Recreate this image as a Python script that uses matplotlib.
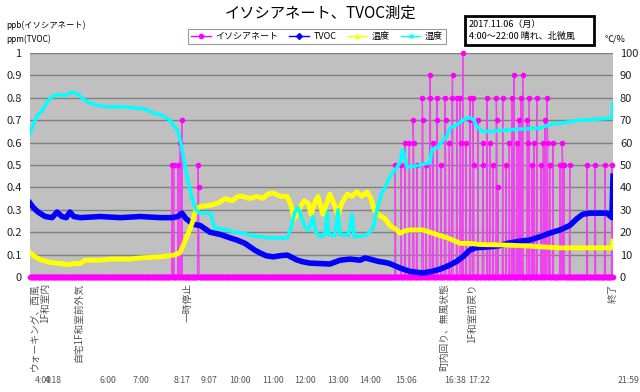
import numpy as np
import matplotlib
matplotlib.use('Agg')
import matplotlib.pyplot as plt
from matplotlib.lines import Line2D
from matplotlib.patches import Rectangle
import matplotlib.transforms as mtransforms

plt.rcParams['font.family'] = ['Noto Sans CJK JP', 'DejaVu Sans']

# ---- data (time = minutes after 4:00) ----
tvoc_t = [0, 6, 15, 28, 41, 50, 59, 67, 74, 81, 93, 130, 167, 204, 241, 263, 274, 281, 289, 302,
          315, 324, 333, 352, 370, 383, 398, 407, 416, 426, 437, 450, 463, 476, 487, 494, 505, 518,
          537, 555, 574, 592, 611, 620, 629, 644, 657, 666, 685, 703, 727, 744, 759, 774, 790, 801,
          814, 824, 851, 870, 883, 907, 925, 944, 962, 981, 999, 1012, 1023, 1036, 1068, 1077, 1079]
tvoc_v = [0.33, 0.31, 0.29, 0.27, 0.265, 0.29, 0.27, 0.265, 0.29, 0.27, 0.265, 0.27, 0.265, 0.27,
          0.265, 0.265, 0.27, 0.285, 0.26, 0.235, 0.23, 0.215, 0.20, 0.19, 0.175, 0.165, 0.15, 0.135,
          0.12, 0.107, 0.095, 0.09, 0.095, 0.098, 0.085, 0.076, 0.068, 0.062, 0.06, 0.058, 0.075,
          0.08, 0.075, 0.085, 0.08, 0.07, 0.065, 0.06, 0.04, 0.025, 0.018, 0.025, 0.035, 0.05, 0.07,
          0.09, 0.12, 0.13, 0.135, 0.14, 0.15, 0.16, 0.165, 0.18, 0.196, 0.21, 0.23, 0.26, 0.28,
          0.285, 0.285, 0.265, 0.45]

temp_t = [0, 9, 22, 37, 56, 74, 78, 93, 102, 130, 148, 185, 204, 241, 259, 270, 278, 285, 292, 300,
          307, 315, 333, 348, 361, 374, 385, 394, 407, 420, 431, 440, 450, 463, 476, 483, 489, 494,
          500, 507, 515, 520, 527, 533, 542, 555, 564, 570, 577, 587, 596, 605, 614, 624, 631, 637,
          644, 657, 666, 679, 685, 692, 703, 727, 740, 746, 759, 772, 787, 796, 814, 833, 875, 907,
          944, 981, 1018, 1055, 1077, 1079]
temp_v = [11, 9, 7.5, 6.5, 6, 5.5, 6, 6, 7.5, 7.5, 8, 8, 8.5, 9, 9.5, 10, 11, 15, 19, 24,
          30, 31.5, 32, 33, 35, 34, 36, 36, 35, 36, 35, 37, 37.5, 36, 36, 32, 26, 28,
          31, 34, 33, 28, 33, 36, 28, 37, 32, 27, 33, 37, 36, 38, 36, 38, 35, 30,
          28, 26, 23, 21, 19.5, 20.5, 21, 21, 20, 19.5, 18.5, 17.5, 16, 15, 15, 14.5, 14.3, 14,
          13.5, 13, 13, 13, 13, 16]

hum_t = [0, 6, 13, 22, 31, 41, 52, 65, 78, 87, 96, 107, 120, 139, 167, 194, 213, 222, 231, 246,
         259, 268, 274, 279, 285, 292, 300, 307, 313, 328, 335, 341, 352, 365, 379, 394, 411, 426,
         444, 463, 476, 483, 490, 496, 502, 509, 516, 524, 529, 537, 546, 550, 553, 564, 570, 574,
         589, 596, 600, 620, 629, 635, 642, 650, 657, 666, 676, 685, 690, 698, 713, 731, 740, 744,
         753, 764, 772, 777, 790, 801, 809, 816, 822, 827, 838, 851, 883, 907, 944, 962, 990, 1018,
         1055, 1077, 1079]
hum_v = [64, 68, 72, 74, 78, 80.5, 81.5, 81, 82.5, 82, 80, 78, 77, 76, 76, 75.5, 75, 74, 73, 72,
         70, 67, 65, 60, 52, 43, 35, 30, 28.6, 28.5, 28, 22, 21.5, 21, 20, 19.6, 18.5, 18,
         17.5, 17.4, 17.4, 22, 29, 31, 27, 22, 21, 27, 20, 18, 19, 29, 19, 18.5, 30, 19,
         18.5, 28, 18, 18.5, 20, 22, 30, 37, 40, 44.6, 48, 51, 57, 49, 49.5, 50.5, 51, 57,
         57.5, 61, 63, 66.5, 68, 70, 71, 71, 70, 67, 65, 65, 65.6, 66, 66.5, 68, 69, 70,
         70.5, 71, 78]

# isocyanate (ppb): zero except these readings (start minute -> consecutive values)
iso_spikes = {263: [0.5], 266: [0.5], 274: [0.5], 278: [0.6], 281: [0.7], 311: [0.5, 0.4],
              676: [0.5], 687: [0.5], 694: [0.6], 702: [0.6], 709: [0.7, 0.6], 716: [0.5],
              726: [0.8, 0.7], 733: [0.5], 740: [0.9, 0.8], 746: [0.6], 753: [0.8, 0.7],
              761: [0.5], 768: [0.8, 0.7], 776: [0.6], 781: [0.8, 0.9], 790: [0.8],
              796: [0.8, 0.6], 801: [1.0], 807: [0.6], 814: [0.8, 0.7], 820: [0.8, 0.5],
              829: [0.7], 838: [0.6, 0.5], 846: [0.8], 851: [0.6], 857: [0.5], 863: [0.8, 0.7],
              866: [0.4], 875: [0.8], 881: [0.5], 887: [0.6], 892: [0.8], 896: [0.9], 901: [0.6],
              905: [0.7], 909: [0.8], 912: [0.9], 920: [0.7, 0.6], 924: [0.8], 929: [0.5],
              933: [0.6], 938: [0.8], 946: [0.5], 950: [0.6], 953: [0.7], 957: [0.8, 0.6],
              962: [0.5], 968: [0.6], 981: [0.5], 985: [0.6, 0.5], 988: [0.5], 999: [0.5],
              1031: [0.5], 1046: [0.5], 1064: [0.5], 1077: [0.5]}
iso_t = np.arange(0, 1080)
iso_v = np.zeros(len(iso_t))
for t0, seq in iso_spikes.items():
    iso_v[t0:t0 + len(seq)] = seq

tick_t = [0, 18, 120, 180, 257, 307, 360, 420, 480, 540, 600, 666, 758, 802, 1079]
tick_labels = ['4:00', '4:18', '6:00', '7:00', '8:17', '9:07', '10:00', '11:00', '12:00',
               '13:00', '14:00', '15:06', '16:38', '17:22', '21:59']

note_t = [18, 89, 291, 766, 818, 1079]
note_text = ['ウォーキング、西風\n1F和室内', '自宅1F和室前外気', '一時停止',
             '町内回り、無風状態', '1F和室前戻り', '終了']

series_names = ['イソシアネート', 'TVOC', '温度', '湿度']

# ---- figure ----
W, H = 640, 392
fig = plt.figure(figsize=(6.4, 3.92), dpi=100)
L, R, T, B = 30, 613, 53, 277
ax = fig.add_axes([L / W, 1 - B / H, (R - L) / W, (B - T) / H])
ax.set_facecolor('#C0C0C0')
ax2 = ax.twinx()

ax.set_xlim(0, 1079)
ax.set_ylim(0, 1)
ax2.set_ylim(0, 100)
ax.set_yticks(np.arange(0, 1.01, 0.1))
ax.set_yticklabels(['0', '0.1', '0.2', '0.3', '0.4', '0.5', '0.6', '0.7', '0.8', '0.9', '1'])
ax2.set_yticks(np.arange(0, 101, 10))
ax.grid(axis='y', color='#808080', linewidth=1)
ax.set_axisbelow(True)

ax.plot(iso_t, iso_v, color='#EE44EE', linewidth=0.9, marker='o', markersize=3,
        markerfacecolor='#FF00FF', markeredgecolor='#FF00FF', clip_on=False, zorder=3)
ax.plot(tvoc_t, tvoc_v, color='#0000FF', linewidth=4, solid_joinstyle='round', zorder=4)
ax2.plot(temp_t, temp_v, color='#FFFF00', linewidth=3.5, solid_joinstyle='round')
ax2.plot(hum_t, hum_v, color='#00FFFF', linewidth=2.5, solid_joinstyle='round')

for a in (ax, ax2):
    for s in a.spines.values():
        s.set_visible(False)
ax.tick_params(axis='y', length=0, pad=6, labelsize=8, labelcolor='#222222')
ax2.tick_params(axis='y', length=0, pad=5, labelsize=8, labelcolor='#222222')

ax.set_xticks(tick_t)
ax.set_xticklabels(tick_labels)
ax.tick_params(axis='x', length=0, pad=71, labelsize=6.3, labelcolor='#555555')
off = mtransforms.ScaledTranslation(5 / 100, 0, fig.dpi_scale_trans)
for lab in ax.get_xticklabels():
    lab.set_horizontalalignment('left')
    lab.set_transform(lab.get_transform() + off)

trans = mtransforms.blended_transform_factory(ax.transData, ax.transAxes)
for t, s in zip(note_t, note_text):
    ax.text(t, -0.027, s, transform=trans, rotation=90, ha='center', va='top',
            multialignment='right', fontsize=7, color='#555555', linespacing=1.0)

# title & labels
fig.text(0.5, 1 - 13 / H, 'イソシアネート、TVOC測定', ha='center', va='center', fontsize=11)
fig.text(6 / W, 1 - 25 / H, 'ppb(イソシアネート)', ha='left', va='center', fontsize=6)
fig.text(6 / W, 1 - 39 / H, 'ppm(TVOC)', ha='left', va='center', fontsize=6)
fig.text(605 / W, 1 - 39 / H, '℃/%', ha='left', va='center', fontsize=6.5)

# date box
fig.patches.append(Rectangle((465 / W, 1 - 45 / H), (594 - 465) / W, (45 - 16) / H,
                             transform=fig.transFigure, fill=False, edgecolor='black',
                             linewidth=2))
fig.text(469 / W, 1 - 30.5 / H, '2017.11.06（月）\n4:00～22:00 晴れ、北微風',
         ha='left', va='center', fontsize=6.5, linespacing=1.45)

# legend
handles = [Line2D([], [], color='#FF00FF', lw=1, marker='o', markersize=3),
           Line2D([], [], color='#0000FF', lw=1, marker='D', markersize=3),
           Line2D([], [], color='#FFFF00', lw=1, marker='^', markersize=3),
           Line2D([], [], color='#00FFFF', lw=1, marker='x', markersize=3)]
leg = fig.legend(handles, series_names, loc='center', bbox_to_anchor=(317 / W, 1 - 36.5 / H),
                 ncol=4, fontsize=6.5, frameon=True, fancybox=False, edgecolor='#808080',
                 handlelength=2.2, handletextpad=0.5, columnspacing=1.2, borderpad=0.3)
leg.get_frame().set_linewidth(0.8)

fig.savefig('out.png', dpi=100, facecolor='white')
